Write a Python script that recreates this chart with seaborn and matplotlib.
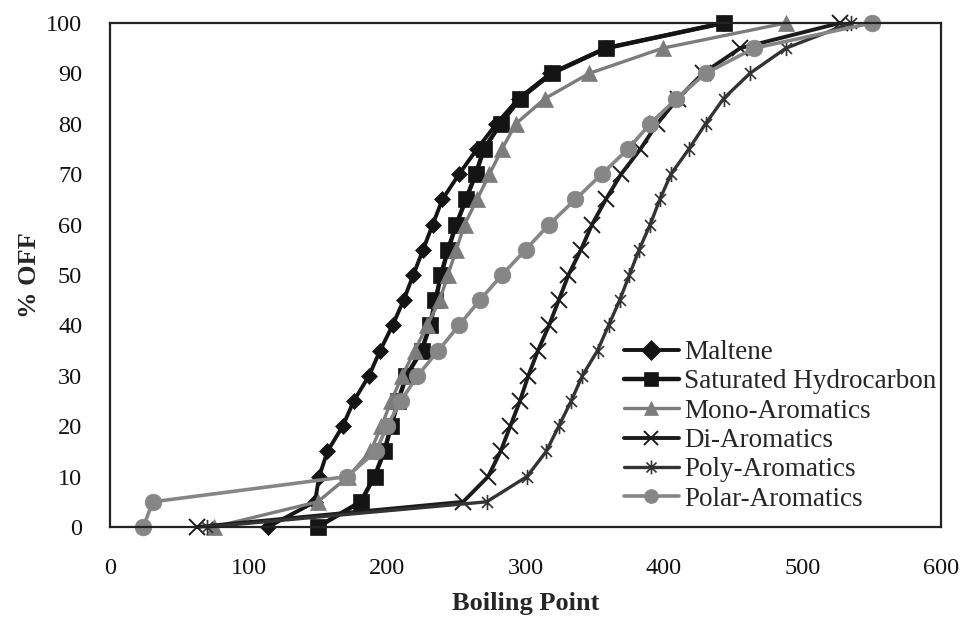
import numpy as np
import pandas as pd
import matplotlib
matplotlib.use("Agg")
import matplotlib.pyplot as plt
import seaborn as sns
from matplotlib.path import Path

# ---- data ----
pct_off = [0, 5, 10, 15, 20, 25, 30, 35, 40, 45, 50, 55, 60, 65, 70, 75, 80, 85, 90, 95, 100]
maltene_bp = [114, 148, 151, 157, 168, 176, 187, 195, 204, 212, 219, 226, 233, 240, 252, 265, 279, 295, 318, 358, 443]
saturated_bp = [150, 181, 191, 198, 203, 208, 214, 225, 231, 235, 239, 244, 250, 257, 264, 270, 282, 296, 319, 358, 443]
mono_bp = [75, 150, 172, 188, 196, 203, 211, 220, 229, 238, 244, 250, 256, 265, 274, 283, 293, 314, 346, 399, 488]
di_bp = [63, 255, 273, 282, 289, 296, 302, 309, 317, 324, 331, 340, 348, 358, 369, 383, 395, 410, 428, 455, 527]
poly_bp = [70, 272, 301, 315, 324, 333, 341, 352, 360, 368, 375, 382, 390, 397, 405, 418, 430, 443, 462, 488, 535]
polar_bp = [24, 31, 171, 192, 200, 210, 222, 237, 252, 267, 283, 300, 317, 336, 355, 374, 390, 409, 430, 465, 550]

series_names = ["Maltene", "Saturated Hydrocarbon", "Mono-Aromatics",
                "Di-Aromatics", "Poly-Aromatics", "Polar-Aromatics"]
series_values = [maltene_bp, saturated_bp, mono_bp, di_bp, poly_bp, polar_bp]
x_ticks = [0, 100, 200, 300, 400, 500, 600]
y_ticks = [0, 10, 20, 30, 40, 50, 60, 70, 80, 90, 100]

# ---- style ----
sns.set_style("white")
plt.rcParams["font.family"] = ["Liberation Serif", "DejaVu Serif"]

star = Path([(0, -1), (0, 1), (-0.72, -0.72), (0.72, 0.72), (-0.72, 0.72), (0.72, -0.72)],
            [Path.MOVETO, Path.LINETO] * 3)

styles = [
    dict(color="#141414", lw=2.8, marker="D", markersize=8.5, mew=0.5),
    dict(color="#141414", lw=3.2, marker="s", markersize=12, mew=0.5),
    dict(color="#7c7c7c", lw=2.4, marker="^", markersize=12, mew=0.5),
    dict(color="#1c1c1c", lw=2.8, marker="x", markersize=11, mew=1.4),
    dict(color="#333333", lw=2.4, marker=star, markersize=11, mew=1.2),
    dict(color="#868686", lw=2.6, marker="o", markersize=12, mew=0.5),
]

fig, ax = plt.subplots(figsize=(9.64, 6.19), dpi=100)
fig.subplots_adjust(left=110 / 964, right=941 / 964, top=1 - 23 / 619, bottom=1 - 527 / 619)

for name, vals, st in zip(series_names, series_values, styles):
    df = pd.DataFrame({"bp": vals, "pct": pct_off})
    sns.lineplot(data=df, x="bp", y="pct", sort=False, estimator=None, ax=ax,
                 color=st["color"], lw=st["lw"], marker=st["marker"],
                 markersize=st["markersize"], mec=st["color"], mfc=st["color"],
                 mew=st["mew"], label=name, clip_on=False)

ax.set_xlim(0, 600)
ax.set_ylim(0, 100)
ax.set_xticks(x_ticks)
ax.set_yticks(y_ticks)
ax.tick_params(axis="both", length=0, labelsize=17.5, colors="#111111")
ax.tick_params(axis="x", pad=22)
ax.tick_params(axis="y", pad=20)

ax.set_xlabel("Boiling Point", fontsize=19, fontweight="bold", labelpad=10)
ax.set_ylabel("% OFF", fontsize=19, fontweight="bold", labelpad=4)

for sp in ax.spines.values():
    sp.set_visible(True)
    sp.set_color("#222222")
    sp.set_linewidth(1.6)

leg = ax.legend(loc="lower right", bbox_to_anchor=(1.004, 0.014), fontsize=19.5,
                frameon=False, handlelength=2.0, handletextpad=0.2,
                labelspacing=0.16, borderaxespad=0.1, borderpad=0.2)
for h in leg.legend_handles:
    h.set_markersize(10)

fig.savefig("out.png", dpi=100)
